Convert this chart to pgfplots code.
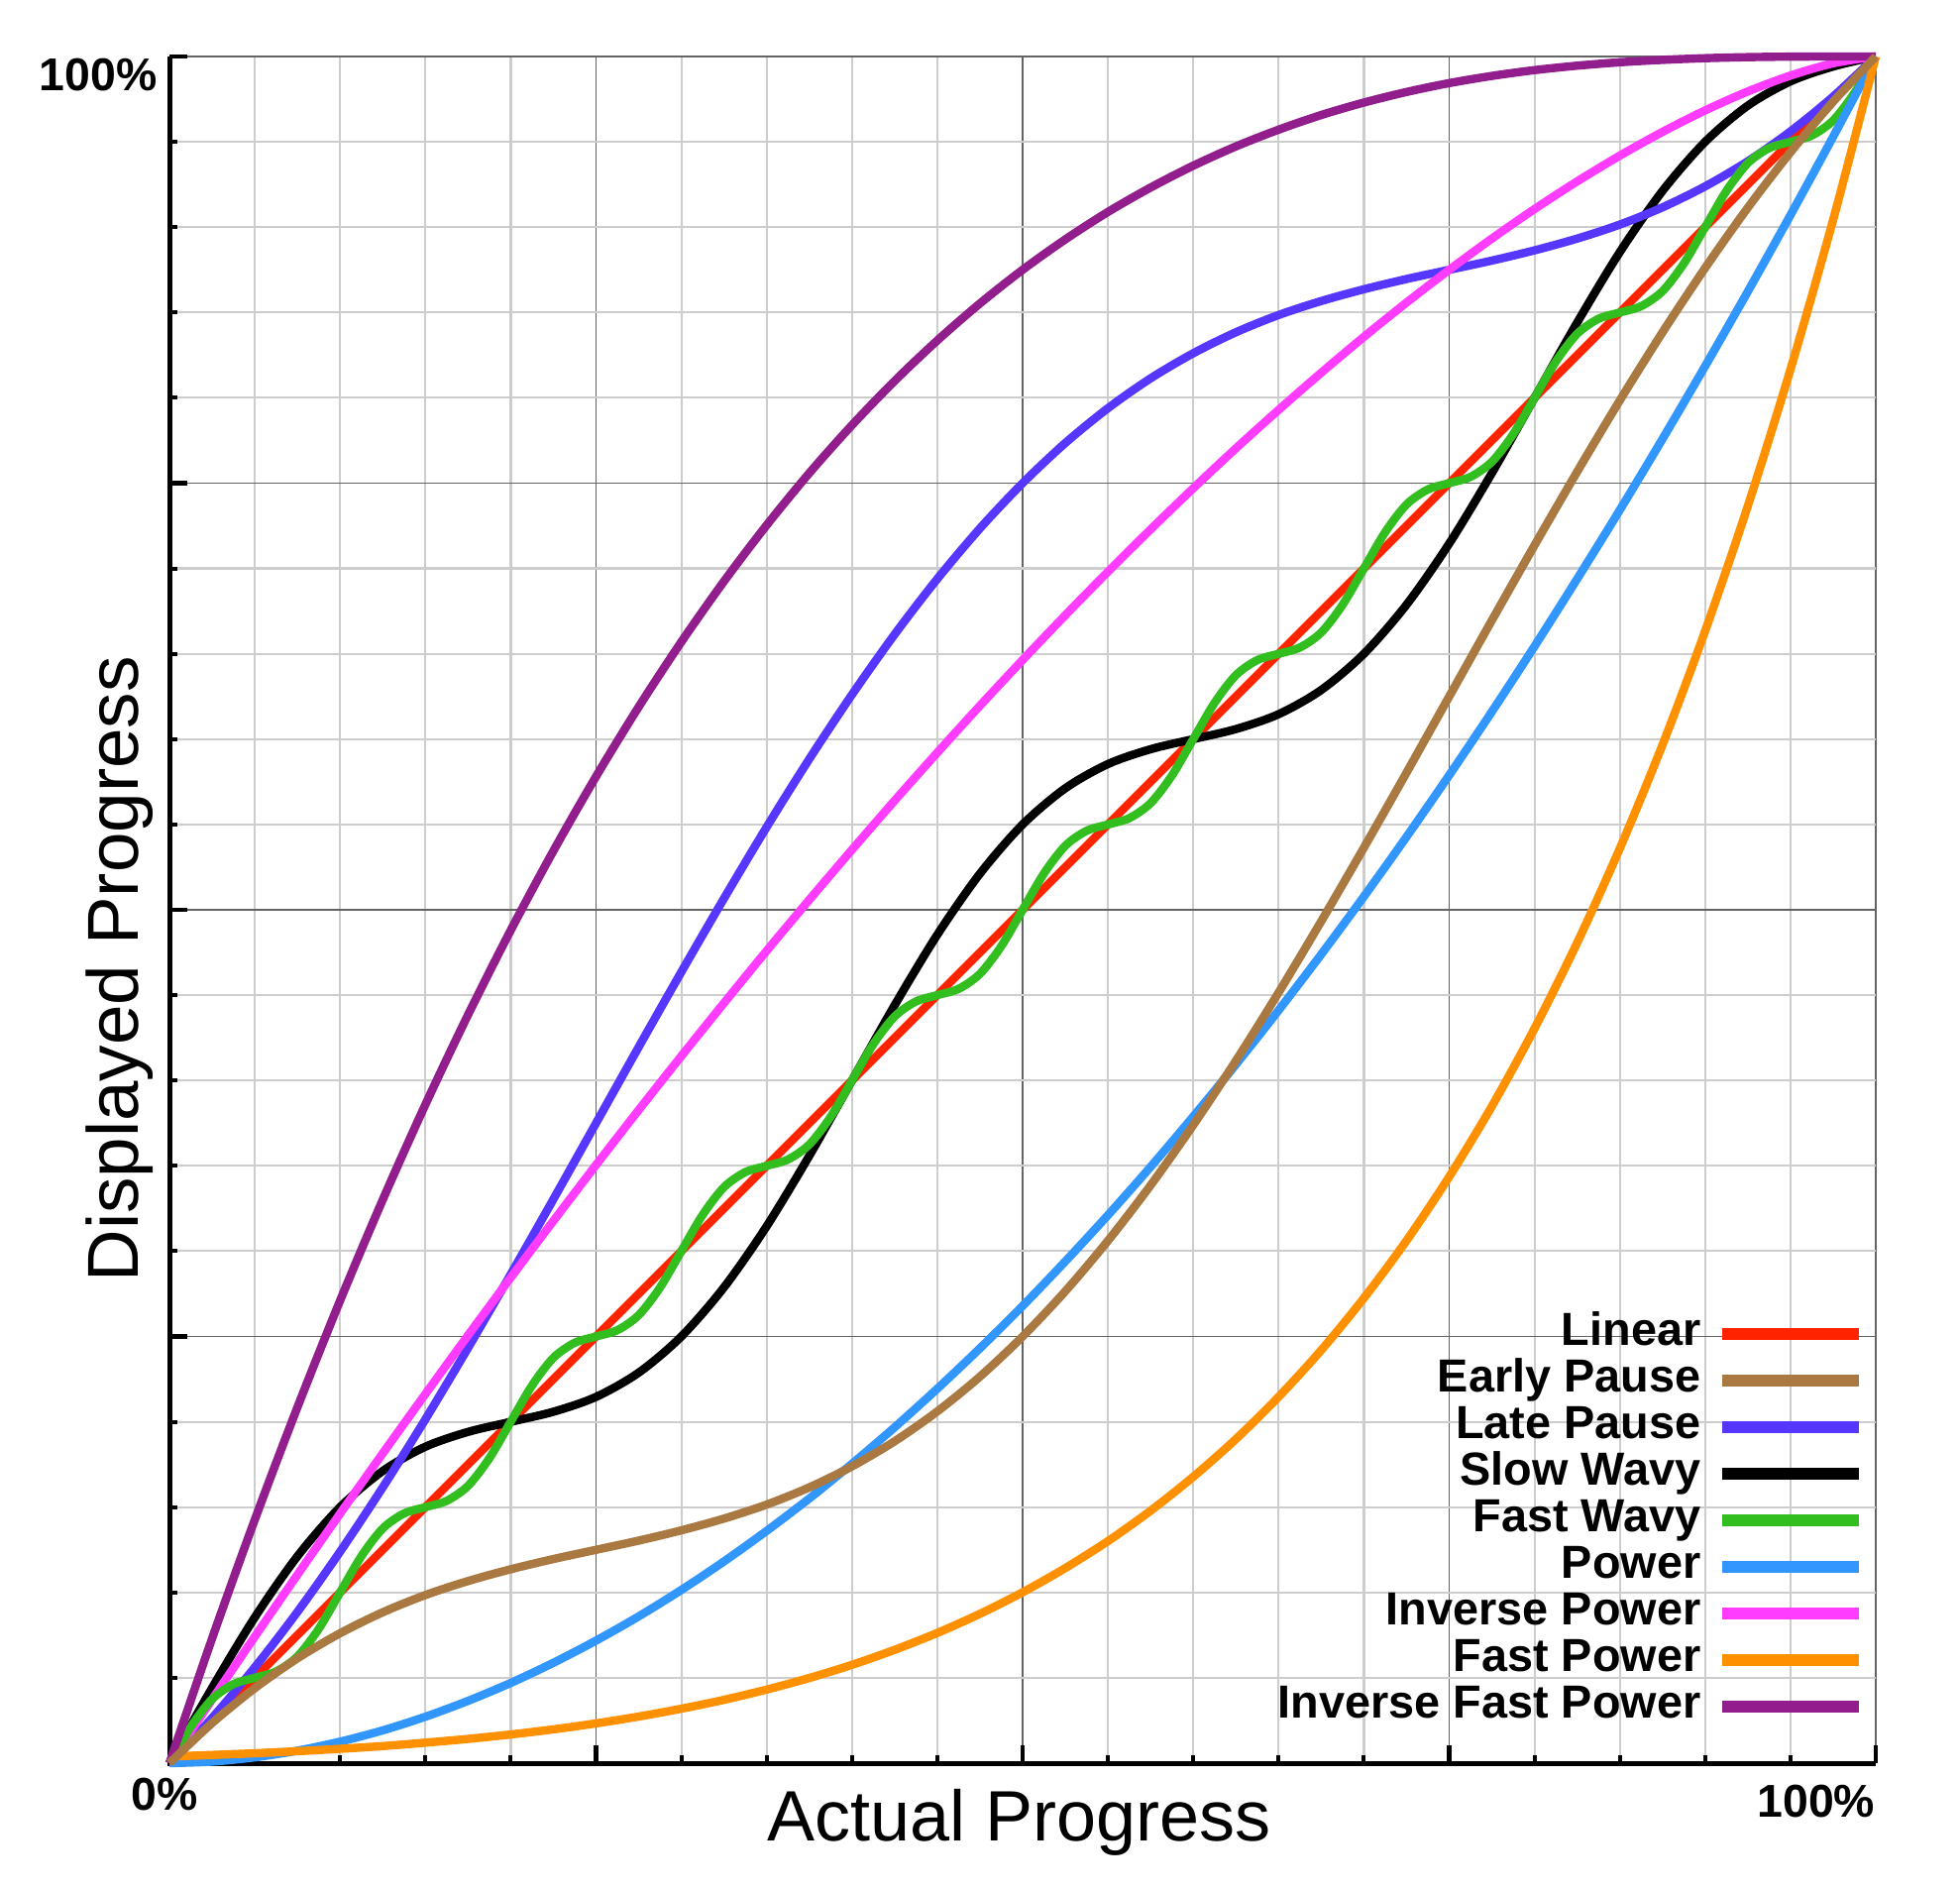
\documentclass[border=0pt]{standalone}
\usepackage{pgfplots}
\pgfplotsset{compat=1.18}
\usepackage{fontspec}
\setmainfont{Liberation Sans}
\definecolor{cLinear}{RGB}{255,35,0}
\definecolor{cEarly}{RGB}{170,120,65}
\definecolor{cLate}{RGB}{85,55,255}
\definecolor{cSlow}{RGB}{0,0,0}
\definecolor{cFast}{RGB}{50,190,30}
\definecolor{cPower}{RGB}{50,150,255}
\definecolor{cInvPower}{RGB}{255,60,255}
\definecolor{cFastPower}{RGB}{255,145,0}
\definecolor{cInvFastPower}{RGB}{145,30,140}
\definecolor{majgrid}{RGB}{100,100,100}
\definecolor{mingrid}{RGB}{205,205,205}
\begin{document}
\begin{tikzpicture}
\begin{axis}[
  scale only axis, width=430.5pt, height=430.5pt,
  xmin=0, xmax=1, ymin=0, ymax=1,
  xtick={0,0.25,0.5,0.75,1}, ytick={0,0.25,0.5,0.75,1},
  minor tick num=4,
  xticklabels={}, yticklabels={},
  tick align=inside, tick pos=left,
  major tick length=4.5pt, minor tick length=2pt,
  every tick/.style={black},
  every major tick/.append style={line width=1.2pt},
  every minor tick/.append style={line width=1pt},
  grid=both,
  major grid style={draw=majgrid, line width=0.45pt},
  minor grid style={draw=mingrid, line width=0.55pt},
  axis line style={draw=none},
  clip=false,
  every axis plot/.append style={line width=2.1pt, smooth},
  legend plot pos=right,
  legend cell align=right,
  legend image code/.code={\draw (0pt,0pt) -- (34.5pt,0pt);},
  legend style={draw=none, fill=none, at={(0.9938,0.2645)}, anchor=north east,
    inner sep=0pt, outer sep=0pt, row sep=0.55pt, column sep=4pt,
    font=\bfseries\fontsize{11.7}{13.5}\selectfont,
    nodes={inner sep=0pt, text height=8.6pt, text depth=2.6pt}},
]
\draw[black, line width=1.25pt] (rel axis cs:0,1) -- (rel axis cs:0,0) -- (rel axis cs:1,0);

\addlegendimage{line width=3pt, cLinear}
\addlegendentry{Linear}
\addlegendimage{line width=3pt, cEarly}
\addlegendentry{Early Pause}
\addlegendimage{line width=3pt, cLate}
\addlegendentry{Late Pause}
\addlegendimage{line width=3pt, cSlow}
\addlegendentry{Slow Wavy}
\addlegendimage{line width=3pt, cFast}
\addlegendentry{Fast Wavy}
\addlegendimage{line width=3pt, cPower}
\addlegendentry{Power}
\addlegendimage{line width=3pt, cInvPower}
\addlegendentry{Inverse Power}
\addlegendimage{line width=3pt, cFastPower}
\addlegendentry{Fast Power}
\addlegendimage{line width=3pt, cInvFastPower}
\addlegendentry{Inverse Fast Power}

% Linear
\addplot[cLinear, forget plot] coordinates {(0,0) (1,1)};
% Slow Wavy
\addplot[cSlow, forget plot] coordinates {
(0,0) (0.025,0.0441) (0.05,0.0854) (0.075,0.1212) (0.1,0.15) (0.125,0.1712) (0.15,0.1854) (0.175,0.1941) (0.2,0.2) (0.225,0.2059) (0.25,0.2146) (0.275,0.2288) (0.3,0.25) (0.325,0.2788) (0.35,0.3146) (0.375,0.3559) (0.4,0.4) (0.425,0.4441) (0.45,0.4854) (0.475,0.5212) (0.5,0.55) (0.525,0.5712) (0.55,0.5854) (0.575,0.5941) (0.6,0.6) (0.625,0.6059) (0.65,0.6146) (0.675,0.6288) (0.7,0.65) (0.725,0.6788) (0.75,0.7146) (0.775,0.7559) (0.8,0.8) (0.825,0.8441) (0.85,0.8854) (0.875,0.9212) (0.9,0.95) (0.925,0.9712) (0.95,0.9854) (0.975,0.9941) (1,1)};
% Late Pause
\addplot[cLate, forget plot] coordinates {
(0,0) (0.025,0.0265) (0.05,0.0561) (0.075,0.0886) (0.1,0.1239) (0.125,0.1616) (0.15,0.2015) (0.175,0.2433) (0.2,0.2864) (0.225,0.3304) (0.25,0.375) (0.275,0.4196) (0.3,0.4636) (0.325,0.5067) (0.35,0.5485) (0.375,0.5884) (0.4,0.6261) (0.425,0.6614) (0.45,0.6939) (0.475,0.7235) (0.5,0.75) (0.525,0.7735) (0.55,0.7939) (0.575,0.8114) (0.6,0.8261) (0.625,0.8384) (0.65,0.8485) (0.675,0.8567) (0.7,0.8636) (0.725,0.8696) (0.75,0.875) (0.775,0.8804) (0.8,0.8864) (0.825,0.8933) (0.85,0.9015) (0.875,0.9116) (0.9,0.9239) (0.925,0.9386) (0.95,0.9561) (0.975,0.9765) (1,1)};
% Inverse Power
\addplot[cInvPower, forget plot] coordinates {
(0,0) (0.025,0.0373) (0.05,0.0741) (0.075,0.1104) (0.1,0.1462) (0.125,0.1815) (0.15,0.2163) (0.175,0.2507) (0.2,0.2845) (0.225,0.3177) (0.25,0.3505) (0.275,0.3827) (0.3,0.4143) (0.325,0.4454) (0.35,0.4760) (0.375,0.5059) (0.4,0.5352) (0.425,0.5640) (0.45,0.5921) (0.475,0.6196) (0.5,0.6464) (0.525,0.6726) (0.55,0.6981) (0.575,0.7229) (0.6,0.7470) (0.625,0.7704) (0.65,0.7929) (0.675,0.8147) (0.7,0.8357) (0.725,0.8558) (0.75,0.875) (0.775,0.8933) (0.8,0.9106) (0.825,0.9268) (0.85,0.9419) (0.875,0.9558) (0.9,0.9684) (0.925,0.9795) (0.95,0.9888) (0.975,0.9960) (1,1)};
% Fast Wavy
\addplot[cFast, forget plot] coordinates {
(0,0) (0.0125,0.0213) (0.025,0.0375) (0.0375,0.0463) (0.05,0.05) (0.0625,0.0537) (0.075,0.0625) (0.0875,0.0787) (0.1,0.1) (0.1125,0.1213) (0.125,0.1375) (0.1375,0.1463) (0.15,0.15) (0.1625,0.1537) (0.175,0.1625) (0.1875,0.1787) (0.2,0.2) (0.2125,0.2213) (0.225,0.2375) (0.2375,0.2463) (0.25,0.25) (0.2625,0.2537) (0.275,0.2625) (0.2875,0.2787) (0.3,0.3) (0.3125,0.3213) (0.325,0.3375) (0.3375,0.3463) (0.35,0.35) (0.3625,0.3537) (0.375,0.3625) (0.3875,0.3787) (0.4,0.4) (0.4125,0.4213) (0.425,0.4375) (0.4375,0.4463) (0.45,0.45) (0.4625,0.4537) (0.475,0.4625) (0.4875,0.4787) (0.5,0.5) (0.5125,0.5213) (0.525,0.5375) (0.5375,0.5463) (0.55,0.55) (0.5625,0.5537) (0.575,0.5625) (0.5875,0.5787) (0.6,0.6) (0.6125,0.6213) (0.625,0.6375) (0.6375,0.6463) (0.65,0.65) (0.6625,0.6537) (0.675,0.6625) (0.6875,0.6787) (0.7,0.7) (0.7125,0.7213) (0.725,0.7375) (0.7375,0.7463) (0.75,0.75) (0.7625,0.7537) (0.775,0.7625) (0.7875,0.7787) (0.8,0.8) (0.8125,0.8213) (0.825,0.8375) (0.8375,0.8463) (0.85,0.85) (0.8625,0.8537) (0.875,0.8625) (0.8875,0.8787) (0.9,0.9) (0.9125,0.9213) (0.925,0.9375) (0.9375,0.9463) (0.95,0.95) (0.9625,0.9537) (0.975,0.9625) (0.9875,0.9787) (1,1)};
% Power
\addplot[cPower, forget plot] coordinates {
(0,0) (0.025,0.0009) (0.05,0.0034) (0.075,0.0073) (0.1,0.0126) (0.125,0.0192) (0.15,0.0272) (0.175,0.0365) (0.2,0.0470) (0.225,0.0588) (0.25,0.0718) (0.275,0.0860) (0.3,0.1015) (0.325,0.1182) (0.35,0.1361) (0.375,0.1551) (0.4,0.1754) (0.425,0.1968) (0.45,0.2194) (0.475,0.2431) (0.5,0.2679) (0.525,0.2940) (0.55,0.3211) (0.575,0.3494) (0.6,0.3789) (0.625,0.4094) (0.65,0.4411) (0.675,0.4739) (0.7,0.5078) (0.725,0.5428) (0.75,0.5789) (0.775,0.6161) (0.8,0.6544) (0.825,0.6939) (0.85,0.7343) (0.875,0.7759) (0.9,0.8186) (0.925,0.8623) (0.95,0.9071) (0.975,0.9530) (1,1)};
% Fast Power
\addplot[cFastPower, forget plot] coordinates {
(0,0.0039) (0.025,0.0048) (0.05,0.0058) (0.075,0.0070) (0.1,0.0084) (0.125,0.0100) (0.15,0.0120) (0.175,0.0142) (0.2,0.0168) (0.225,0.0198) (0.25,0.0233) (0.275,0.0273) (0.3,0.0319) (0.325,0.0371) (0.35,0.0431) (0.375,0.0499) (0.4,0.0576) (0.425,0.0664) (0.45,0.0763) (0.475,0.0875) (0.5,0.1001) (0.525,0.1143) (0.55,0.1301) (0.575,0.1479) (0.6,0.1678) (0.625,0.1899) (0.65,0.2146) (0.675,0.2420) (0.7,0.2725) (0.725,0.3062) (0.75,0.3436) (0.775,0.3849) (0.8,0.4305) (0.825,0.4807) (0.85,0.5360) (0.875,0.5967) (0.9,0.6634) (0.925,0.7366) (0.95,0.8167) (0.975,0.9043) (1,1)};
% Inverse Fast Power
\addplot[cInvFastPower, forget plot] coordinates {
(0,0) (0.025,0.0731) (0.05,0.1426) (0.075,0.2085) (0.1,0.2710) (0.125,0.3301) (0.15,0.3859) (0.175,0.4385) (0.2,0.4880) (0.225,0.5345) (0.25,0.5781) (0.275,0.6189) (0.3,0.6570) (0.325,0.6925) (0.35,0.7254) (0.375,0.7559) (0.4,0.7840) (0.425,0.8099) (0.45,0.8336) (0.475,0.8553) (0.5,0.875) (0.525,0.8928) (0.55,0.9089) (0.575,0.9232) (0.6,0.9360) (0.625,0.9473) (0.65,0.9571) (0.675,0.9657) (0.7,0.9730) (0.725,0.9792) (0.75,0.9844) (0.775,0.9886) (0.8,0.9920) (0.825,0.9946) (0.85,0.9966) (0.875,0.9980) (0.9,0.9990) (0.925,0.9996) (0.95,0.9999) (0.975,1.0000) (1,1)};
% Early Pause
\addplot[cEarly, forget plot] coordinates {
(0,0) (0.025,0.0235) (0.05,0.0439) (0.075,0.0614) (0.1,0.0761) (0.125,0.0884) (0.15,0.0985) (0.175,0.1067) (0.2,0.1136) (0.225,0.1196) (0.25,0.125) (0.275,0.1304) (0.3,0.1364) (0.325,0.1433) (0.35,0.1515) (0.375,0.1616) (0.4,0.1739) (0.425,0.1886) (0.45,0.2061) (0.475,0.2265) (0.5,0.25) (0.525,0.2765) (0.55,0.3061) (0.575,0.3386) (0.6,0.3739) (0.625,0.4116) (0.65,0.4515) (0.675,0.4933) (0.7,0.5364) (0.725,0.5804) (0.75,0.625) (0.775,0.6696) (0.8,0.7136) (0.825,0.7567) (0.85,0.7985) (0.875,0.8384) (0.9,0.8761) (0.925,0.9114) (0.95,0.9439) (0.975,0.9735) (1,1)};
\end{axis}
\node[anchor=north east, inner sep=0pt, font=\bfseries\fontsize{11.6}{13}\selectfont] at (-2.9pt,430.2pt) {100\%};
\node[anchor=north, inner sep=0pt, font=\bfseries\fontsize{11.6}{13}\selectfont] at (-1.25pt,-3.5pt) {0\%};
\node[anchor=north east, inner sep=0pt, font=\bfseries\fontsize{11.6}{13}\selectfont] at (430.5pt,-5.25pt) {100\%};
\node[anchor=base, inner sep=0pt, font=\fontsize{18}{20}\selectfont] at (214.3pt,-19.5pt) {Actual Progress};
\node[anchor=base, rotate=90, inner sep=0pt, font=\fontsize{18.2}{22}\selectfont] at (-7.75pt,200.3pt) {Displayed Progress};
\pgfresetboundingbox
\path[use as bounding box] (-42.75pt,-31.75pt) rectangle (451.75pt,444.75pt);
\end{tikzpicture}
\end{document}
